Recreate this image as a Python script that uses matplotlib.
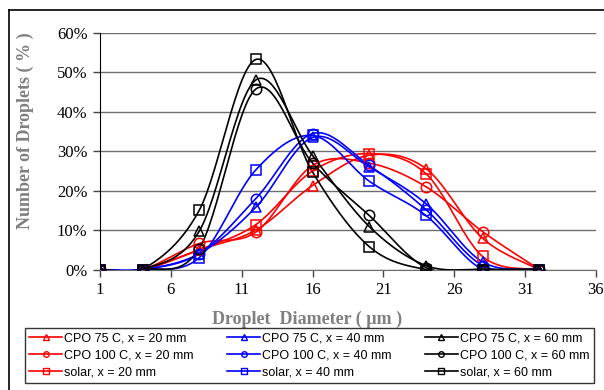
import numpy as np
import matplotlib
matplotlib.use("Agg")
import matplotlib.pyplot as plt
from matplotlib.lines import Line2D
from matplotlib.ticker import FuncFormatter

# droplet diameter (um) and share of droplets (%)
diameter = [1, 4, 8, 12, 16, 20, 24, 28, 32]

red_tri = [0, 0, 5.0, 10.0, 21.3, 29.0, 25.6, 7.9, 0]
red_circ = [0, 0, 6.6, 9.5, 26.4, 27.0, 21.0, 9.6, 0]
red_sq = [0, 0, 5.0, 11.4, 25.0, 29.4, 24.3, 3.3, 0]
blue_tri = [0, 0, 4.0, 15.8, 33.5, 26.0, 16.7, 1.9, 0]
blue_circ = [0, 0, 4.0, 18.0, 34.5, 26.4, 15.2, 1.0, 0]
blue_sq = [0, 0, 3.0, 25.3, 34.0, 22.4, 13.7, 0, 0]
black_tri = [0, 0, 9.7, 48.1, 28.9, 10.9, 1.0, 0, 0]
black_circ = [0, 0, 5.3, 45.8, 27.0, 13.7, 0.5, 0, 0]
black_sq = [0, 0, 15.0, 53.3, 24.7, 5.8, 0, 0, 0]

labels = ["CPO 75 C, x = 20 mm", "CPO 100 C, x = 20 mm", "solar, x = 20 mm",
          "CPO 75 C, x = 40 mm", "CPO 100 C, x = 40 mm", "solar, x = 40 mm",
          "CPO 75 C, x = 60 mm", "CPO 100 C, x = 60 mm", "solar, x = 60 mm"]
series = [red_tri, red_circ, red_sq, blue_tri, blue_circ, blue_sq,
          black_tri, black_circ, black_sq]
colors = ["#ff0000"] * 3 + ["#0000ff"] * 3 + ["#000000"] * 3
markers = ["^", "o", "s"] * 3
msizes = [7, 7.5, 7.5] * 3


# spreadsheet style smoothed line (bezier through the points)
def smooth(x, y, n=30):
    p = np.column_stack([x, y]).astype(float)
    pts = np.vstack([p[0], p, p[-1]])
    out = []
    t = np.linspace(0, 1, n)[:, None]
    for i in range(1, len(pts) - 2):
        p0, p1, p2, p3 = pts[i - 1], pts[i], pts[i + 1], pts[i + 2]
        c1 = p1 + (p2 - p0) / 6
        c2 = p2 - (p3 - p1) / 6
        seg = ((1 - t) ** 3) * p1 + 3 * ((1 - t) ** 2) * t * c1 + 3 * (1 - t) * t ** 2 * c2 + t ** 3 * p2
        out.append(seg)
    out = np.vstack(out)
    return out[:, 0], out[:, 1]


fig = plt.figure(figsize=(6.04, 3.9), dpi=100)
ax = fig.add_axes([100 / 604, 1 - 269.5 / 390, 496 / 604, 236.5 / 390])

for ys, c, m, ms in zip(series, colors, markers, msizes):
    sx, sy = smooth(diameter, ys)
    ax.plot(sx, sy, color=c, lw=1.2, zorder=3)
    ax.plot(diameter, ys, ls="none", marker=m, ms=ms, mfc="none", mec=c, mew=1.1, zorder=4)

ax.set_xlim(1, 36)
ax.set_ylim(0, 60)
ax.set_xticks(range(1, 37, 5))
ax.set_yticks(range(0, 61, 10))
ax.yaxis.set_major_formatter(FuncFormatter(lambda v, p: "%d%%" % v))
ax.grid(axis="y", color="#6e6e6e", lw=1.0)
ax.set_axisbelow(True)
for s in ["top", "right"]:
    ax.spines[s].set_visible(False)
ax.spines["left"].set_color("black")
ax.spines["bottom"].set_color("#6e6e6e")
ax.tick_params(axis="both", direction="out", length=5, width=1, colors="#444444",
               labelcolor="black", labelsize=12, pad=4)
for lab in ax.get_xticklabels() + ax.get_yticklabels():
    lab.set_family("Liberation Serif")

fig.text(307 / 604, 1 - 319 / 390, "Droplet  Diameter ( µm )", ha="center", va="center",
         fontsize=13, fontweight="bold", color="#7f7f7f", family="Liberation Serif")
fig.text(25 / 604, 1 - 131 / 390, "Number of Droplets ( % )", ha="center", va="center",
         rotation=90, fontsize=13, fontweight="bold", color="#7f7f7f", family="Liberation Serif")

handles = [Line2D([0], [0], color=c, lw=1.2, marker=m, ms=4, mfc="none", mec=c, mew=1)
           for c, m in zip(colors, markers)]
leg = fig.legend(handles, labels, ncol=3, loc="upper left",
                 bbox_to_anchor=(25 / 604, 1 - 383 / 390, 569 / 604, 55 / 390), mode="expand",
                 prop={"family": "Liberation Sans", "size": 9}, frameon=True, fancybox=False,
                 edgecolor="black", handlelength=2.6, handletextpad=0.2, labelspacing=0.4,
                 borderpad=0.35, borderaxespad=0)
leg.get_frame().set_linewidth(1.0)

# outer chart border (left and top edges visible)
fig.add_artist(Line2D([8.5 / 604, 8.5 / 604], [0, 1 - 10 / 390], color="black", lw=1.2,
                      transform=fig.transFigure))
fig.add_artist(Line2D([8.5 / 604, 1], [1 - 10 / 390, 1 - 10 / 390], color="black", lw=1.2,
                      transform=fig.transFigure))

fig.savefig("out.png", dpi=100)
